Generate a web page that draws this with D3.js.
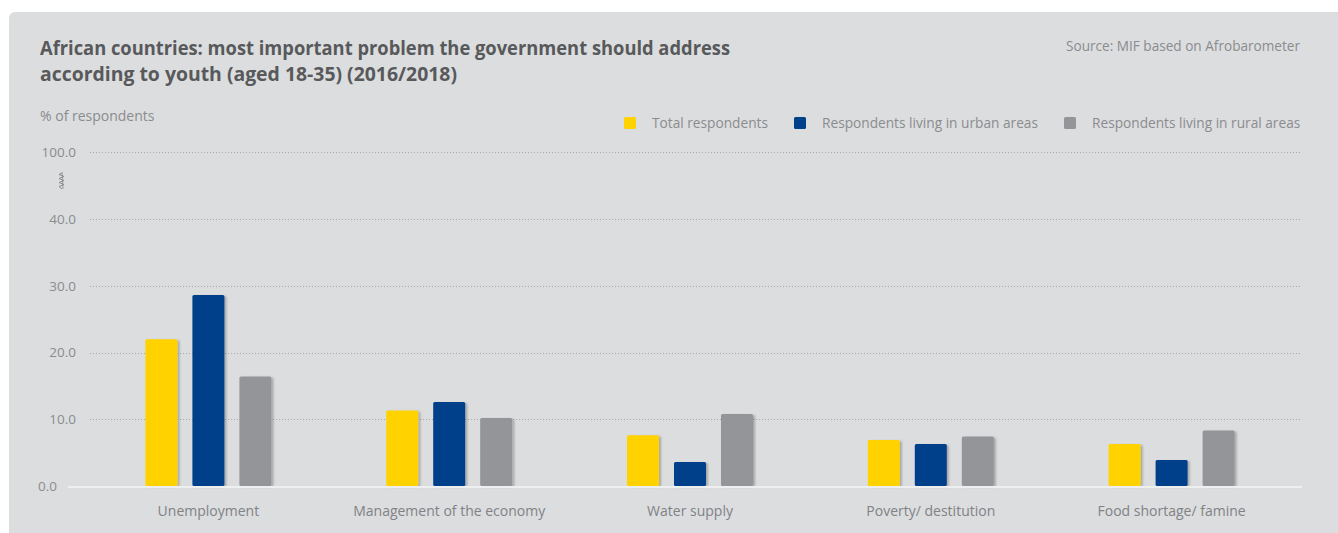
<!DOCTYPE html>
<html><head><meta charset="utf-8">
<script src="https://cdn.jsdelivr.net/npm/d3@7"></script>
<style>
html,body{margin:0;padding:0;background:#fff;}
svg{display:block;font-family:"Open Sans",sans-serif;}
</style></head>
<body>
<svg id="chart" width="1338" height="533"></svg>
<script>
const categories = ["Unemployment","Management of the economy","Water supply","Poverty/ destitution","Food shortage/ famine"];
const seriesNames = ["Total respondents","Respondents living in urban areas","Respondents living in rural areas"];
const totalValues = [22.0, 11.3, 7.6, 6.9, 6.3];
const urbanValues = [28.6, 12.6, 3.6, 6.3, 3.9];
const ruralValues = [16.4, 10.2, 10.8, 7.4, 8.3];
const tickValues = [0, 10, 20, 30, 40, 100];
const tickLabels = ["0.0","10.0","20.0","30.0","40.0","100.0"];
const colors = ["#FFD200","#00408A","#939598"];

const series = [totalValues, urbanValues, ruralValues];
const svg = d3.select("#chart");

const defs = svg.append("defs");
const f = defs.append("filter").attr("id","sh").attr("x","-20%").attr("y","-20%").attr("width","150%").attr("height","150%");
f.append("feDropShadow").attr("dx",2).attr("dy",1).attr("stdDeviation",1.2).attr("flood-color","#000").attr("flood-opacity",0.25);

// panel
svg.append("rect").attr("x",9).attr("y",12).attr("width",1340).attr("height",540).attr("rx",6).attr("fill","#DCDDDF");

// title
const title = svg.append("text").attr("fill","#58595B").attr("font-weight","bold").attr("font-size",18.8);
title.append("tspan").attr("x",40).attr("y",55).attr("textLength",690).attr("lengthAdjust","spacingAndGlyphs")
  .text("African countries: most important problem the government should address");
title.append("tspan").attr("x",40).attr("y",81).attr("textLength",417).attr("lengthAdjust","spacingAndGlyphs")
  .text("according to youth (aged 18-35) (2016/2018)");

svg.append("text").attr("x",1300).attr("y",51).attr("text-anchor","end").attr("fill","#8A8C8E").attr("font-size",13.6).text("Source: MIF based on Afrobarometer");
svg.append("text").attr("x",40).attr("y",121).attr("fill","#8A8C8E").attr("font-size",14).text("% of respondents");

// scales
const x0 = d3.scaleBand().domain(categories).range([88, 1292]);
const x1 = d3.scaleBand().domain(d3.range(3)).range([-63, 63]).paddingInner(0.319);
const y = d3.scaleLinear().domain([0, 40, 100]).range([486, 219, 152]);

// gridlines
const grid = svg.append("g");
tickValues.filter(v => v > 0).forEach(v => {
  grid.append("line").attr("x1",90).attr("x2",1302).attr("y1",Math.round(y(v))+0.5).attr("y2",Math.round(y(v))+0.5)
    .attr("stroke","#A7A9AC").attr("stroke-width",1).attr("stroke-dasharray","1,2");
});

// y axis labels
const yAxis = d3.axisLeft(y).tickValues(tickValues).tickFormat((d,i) => tickLabels[i]).tickSize(0).tickPadding(0);
const ya = svg.append("g").attr("transform","translate(76,0)").call(yAxis);
ya.select(".domain").remove();
ya.selectAll("text").attr("fill","#8A8C8E").attr("font-size",13.5).attr("font-family","Open Sans, sans-serif")
  .attr("x", d => d === 0 ? -19 : 0);

// axis break symbol
const bx = 62, by = 173;
let p = `M${bx},${by}`;
for (let i = 0; i < 7; i++) { p += ` L${bx + (i%2===0?-3:2)},${by + 1.5 + i*2}`; }
p += ` L${bx},${by+16}`;
svg.append("path").attr("d",p).attr("fill","none").attr("stroke","#8A8C8E").attr("stroke-width",1);
svg.append("line").attr("x1",bx).attr("x2",bx+1).attr("y1",by-1).attr("y2",by+16).attr("stroke","#8A8C8E").attr("stroke-width",0.8);

// bars
const groups = svg.append("g").selectAll("g").data(categories).join("g")
  .attr("transform", d => `translate(${x0(d) + x0.bandwidth()/2},0)`);
groups.selectAll("rect").data((d,i) => series.map((s,k) => ({k, v: s[i]}))).join("rect")
  .attr("x", d => x1(d.k)).attr("width", x1.bandwidth())
  .attr("y", d => y(d.v)).attr("height", d => y(0) - y(d.v))
  .attr("rx",1.5).attr("fill", d => colors[d.k]).attr("filter","url(#sh)");

// baseline
svg.append("line").attr("x1",68).attr("x2",1302).attr("y1",487).attr("y2",487).attr("stroke","#EEEFF0").attr("stroke-width",2);

// x labels
const xAxis = d3.axisBottom(x0).tickSize(0).tickPadding(0);
const xa = svg.append("g").attr("transform","translate(0,506)").call(xAxis);
xa.select(".domain").remove();
xa.selectAll("text").attr("fill","#808285").attr("font-size",14).attr("font-family","Open Sans, sans-serif").attr("dy","0.71em");

// legend
const legX = [624, 794, 1064];
const lg = svg.append("g").selectAll("g").data(seriesNames).join("g").attr("transform",(d,i)=>`translate(${legX[i]},117)`);
lg.append("rect").attr("width",12).attr("height",12).attr("rx",1.5).attr("fill",(d,i)=>colors[i]);
lg.append("text").attr("x",28).attr("y",11).attr("fill","#8A8C8E").attr("font-size",13.7).text(d=>d);
</script>
</body></html>
